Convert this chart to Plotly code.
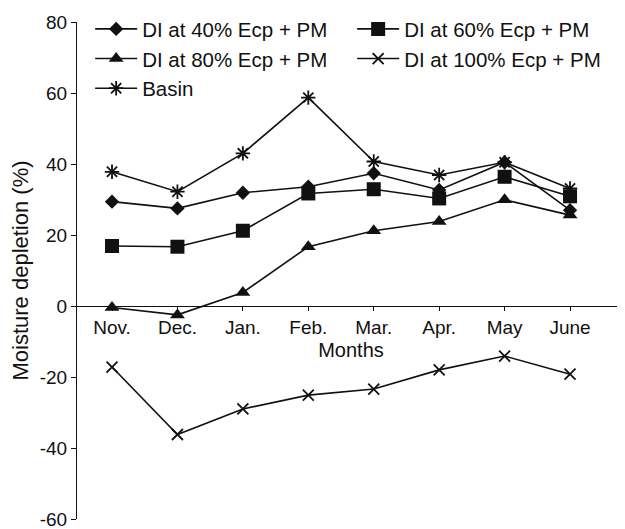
import plotly.graph_objects as go

months = ["Nov.", "Dec.", "Jan.", "Feb.", "Mar.", "Apr.", "May", "June"]
di40 = [29.4, 27.5, 31.9, 33.6, 37.4, 32.7, 40.5, 27.0]
di60 = [16.9, 16.7, 21.2, 31.7, 32.9, 30.3, 36.4, 30.9]
di80 = [-0.4, -2.5, 3.8, 16.7, 21.2, 23.8, 29.9, 25.6]
di100 = [-17.2, -36.2, -29.0, -25.1, -23.4, -18.0, -14.1, -19.2]
basin = [37.8, 32.2, 43.0, 58.7, 40.7, 36.9, 40.5, 33.1]

y_ticks = [80, 60, 40, 20, 0, -20, -40, -60]
y_tick_text = ["80", "60", "40", "20", "0", "-20", "-40", "-60"]

FONT = "Liberation Sans, Arial, sans-serif"
FS = 19
INK = "#111111"
x = list(range(len(months)))

series = [
    ("DI at 40% Ecp + PM", di40, dict(symbol="diamond", size=11, color=INK)),
    ("DI at 60% Ecp + PM", di60, dict(symbol="square", size=14, color=INK)),
    ("DI at 80% Ecp + PM", di80, dict(symbol="triangle-up", size=13, color=INK)),
    ("DI at 100% Ecp + PM", di100, dict(symbol="x-thin", size=11, color=INK,
                                         line=dict(width=1.8, color=INK))),
    ("Basin", basin, dict(symbol="asterisk", size=12, color=INK,
                          line=dict(width=1.8, color=INK))),
]

fig = go.Figure()
for name, vals, mk in series:
    fig.add_trace(go.Scatter(
        x=x, y=vals, name=name, mode="lines+markers",
        line=dict(color=INK, width=1.6), marker=mk,
    ))

# page body has an 8px margin, so the figure is offset to compensate
fig.update_layout(
    width=617, height=529,
    margin=dict(l=69, r=0, t=14, b=18),
    paper_bgcolor="white", plot_bgcolor="white",
    font=dict(family=FONT, size=FS, color=INK),
    showlegend=True,
    legend=dict(orientation="h", x=0.024, y=1.026, xanchor="left", yanchor="top",
                entrywidth=205, entrywidthmode="pixels", itemwidth=42,
                font=dict(family=FONT, size=20.5, color=INK),
                bgcolor="rgba(0,0,0,0)", tracegroupgap=0),
    xaxis=dict(
        range=[-0.535, 7.84], tickmode="array", tickvals=x, ticktext=months,
        tickson="boundaries", ticks="outside", ticklen=4, tickcolor=INK,
        showline=True, linecolor=INK, linewidth=1.2, showgrid=False, zeroline=False,
        anchor="free", position=60 / 140,
        title=dict(text="Months", standoff=6, font=dict(size=20)),
        tickfont=dict(size=FS),
    ),
    yaxis=dict(
        range=[-60, 80], tickmode="array", tickvals=y_ticks, ticktext=y_tick_text,
        ticks="outside", ticklen=5, tickcolor=INK, showline=True, linecolor=INK,
        linewidth=1.2, showgrid=False, zeroline=False, domain=[0, 1],
        title=dict(text="Moisture depletion (%)", standoff=4, font=dict(size=22)),
        tickfont=dict(size=FS),
    ),
)

fig.write_html("out.html")
